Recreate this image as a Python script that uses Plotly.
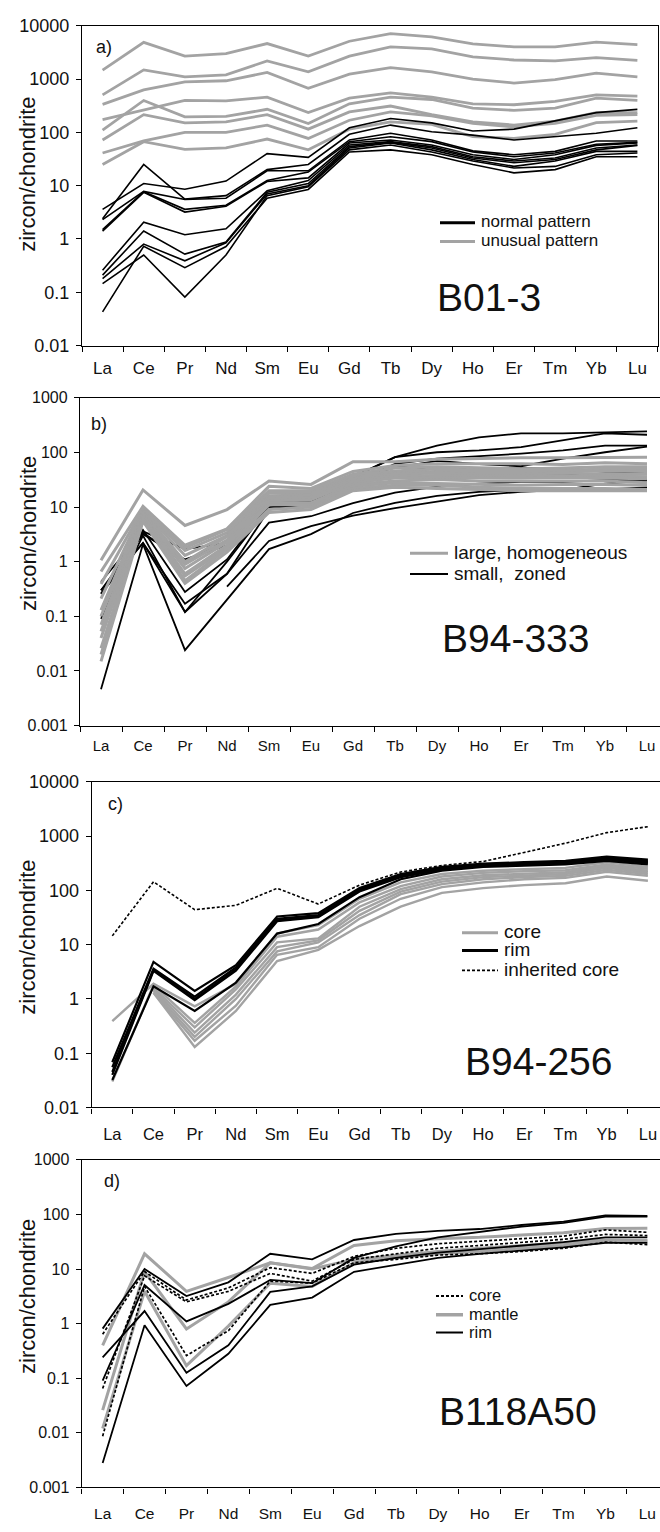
import plotly.graph_objects as go

W, H = 660, 1532
REE = ["La", "Ce", "Pr", "Nd", "Sm", "Eu", "Gd", "Tb", "Dy", "Ho", "Er", "Tm", "Yb", "Lu"]

# ---------------- a) B01-3 : chondrite-normalised REE ----------------
a_unusual = [
    [1470, 4900, 2700, 2990, 4640, 2700, 5130, 7110, 6170, 4580, 4030, 4030, 4920, 4450],
    [505, 1490, 1100, 1200, 2190, 1370, 2700, 4030, 3700, 2600, 2280, 2190, 2520, 2250],
    [335, 625, 890, 930, 1330, 671, 1240, 1640, 1370, 1000, 843, 973, 1290, 1100],
    [174, 260, 397, 391, 458, 235, 438, 551, 458, 344, 330, 380, 506, 478],
    [110, 397, 195, 200, 271, 147, 344, 458, 414, 286, 259, 286, 438, 397],
    [72, 215, 151, 158, 215, 115, 242, 312, 215, 158, 137, 162, 235, 235],
    [41, 69, 100, 100, 137, 77, 169, 242, 204, 147, 127, 147, 209, 215],
    [25, 67, 48, 51, 75, 47, 115, 158, 141, 83, 77, 92, 153, 162],
]
a_normal = [
    [3.6, 11, 8.6, 12.2, 40, 34, 122, 182, 151, 106, 115, 162, 235, 270],
    [2.4, 25, 5.6, 6.5, 20, 25, 92, 137, 103, 89, 72, 83, 96, 122],
    [2.3, 7.8, 5.5, 5.8, 19, 19, 72, 96, 72, 45, 38, 44, 69, 69],
    [1.5, 7.7, 3.6, 4.3, 12.5, 18, 67, 83, 67, 43, 35, 41, 60, 65],
    [1.4, 7.5, 3.2, 4.1, 12, 14, 63, 72, 58, 38, 31, 38, 57, 63],
    [0.26, 2.07, 1.2, 1.55, 8, 12.5, 58, 67, 54, 35, 29, 33, 51, 58],
    [0.21, 1.41, 0.52, 0.88, 7.5, 11, 54, 65, 51, 33, 27, 31, 47, 57],
    [0.18, 0.8, 0.39, 0.85, 7, 10, 51, 63, 47, 31, 23, 29, 44, 44],
    [0.145, 0.5, 0.081, 0.5, 6.5, 9.5, 47, 58, 43, 29, 21.5, 23, 38, 41],
    [0.043, 0.73, 0.29, 0.72, 5.8, 8.5, 43, 47, 38, 25, 17.4, 20, 35, 35],
]

# ---------------- b) B94-333 ----------------
b_small = [
    [0.43, 3.6, 1.7, 2.2, 15, 14, 36, 82, 134, 189, 224, 224, 233, 243],
    [0.26, 3.2, 1.1, 2.0, 12, 14, 35, 82, 101, 109, 125, 165, 224, 211],
    [0.1, 3.8, 0.28, 1.1, 11, 13, 28, 62, 77, 85, 95, 109, 134, 134],
    [0.3, 2.2, 0.17, 0.6, 9, 12, 33, 53, 70, 61, 56, 77, 101, 128],
    [0.09, 3.0, 0.12, 1.0, 10, 11, 25, 45, 53, 51, 51, 51, 44, 44],
    [0.3, 3.4, 1.0, 2.4, 13, 14, 32, 40, 45, 40, 38, 38, 40, 45],
    [0.26, 2.2, 0.12, 0.6, 5.2, 6.8, 11.8, 18.4, 23.6, 27, 29, 29, 31, 32],
    [None, None, None, 0.35, 2.4, 4.5, 7.0, 9.6, 12.6, 16.6, 19, 20.6, 27, 30.5],
    [0.0046, 2.1, 0.024, 0.2, 1.7, 3.2, 7.8, 12, 16, 19, 20.6, 20.6, 21, 23],
]
b_large = [
    [1.06, 20.6, 4.6, 9, 30, 26, 68, 68, 75, 78, 80, 80, 82, 82],
    [0.66, 10.3, 2.0, 4.0, 24, 22, 45, 58, 62, 62, 62, 60, 65, 62],
    [0.39, 9.5, 1.8, 3.9, 20, 20, 40, 52, 55, 52, 50, 52, 55, 55],
    [0.21, 9, 1.6, 3.4, 18, 18, 38, 46, 50, 48, 48, 47, 50, 50],
    [0.13, 8.5, 1.3, 3.0, 16, 17, 35, 42, 45, 45, 44, 45, 46, 45],
    [0.1, 8, 1.0, 2.9, 15, 16, 33, 40, 42, 40, 40, 42, 40, 40],
    [0.07, 7.5, 0.9, 2.5, 14, 15, 30, 37, 38, 38, 37, 38, 37, 36],
    [0.053, 7, 0.75, 2.3, 13, 13.6, 28, 34, 35, 34, 34, 35, 34, 33],
    [0.04, 6.8, 0.6, 2.0, 12, 12, 26, 30, 32, 30, 30, 30, 30, 28],
    [0.026, 6.5, 0.55, 1.8, 11, 11, 24, 28, 27, 26, 25, 26, 26, 25],
    [0.02, 6, 0.45, 1.7, 9, 10, 22, 25, 25, 23, 22, 22, 22, 21],
    [0.015, 5.5, 0.4, 1.5, 8, 9, 20, 23, 22, 21, 20, 20, 20, 20],
]

# ---------------- c) B94-256 ----------------
c_core = [
    [0.39, 1.9, 0.73, 1.9, 16, 23, 70, 140, 200, 230, 245, 260, 330, 270],
    [0.03, 1.8, 0.36, 1.7, 14, 19, 60, 120, 180, 210, 225, 235, 300, 250],
    [None, 1.6, 0.3, 1.5, 11, 13, 50, 105, 160, 190, 205, 215, 280, 230],
    [None, 1.5, 0.24, 1.2, 9, 12, 42, 95, 145, 175, 190, 200, 260, 215],
    [None, 1.4, 0.2, 1.0, 7.5, 11, 35, 85, 130, 160, 175, 185, 240, 200],
    [None, 1.3, 0.17, 0.75, 6.5, 9, 30, 70, 115, 140, 160, 170, 220, 185],
    [None, 1.3, 0.13, 0.6, 5, 8, 22, 50, 90, 110, 125, 135, 180, 150],
]
c_rim = [
    [0.068, 4.8, 1.4, 4.2, 33, 38, 110, 200, 270, 310, 330, 350, 420, 370],
    [0.055, 3.6, 1.1, 3.8, 30, 35, 105, 190, 260, 300, 320, 340, 400, 350],
    [0.045, 3.4, 1.0, 3.5, 28, 33, 100, 180, 250, 290, 305, 325, 380, 335],
    [0.04, 3.3, 0.95, 3.3, 27, 32, 95, 175, 240, 280, 295, 315, 370, 320],
    [0.032, 1.7, 0.6, 2.0, 16, 24, 75, 160, 230, 270, 285, 300, 350, 300],
]
c_inherited = [14.5, 144, 44, 53, 109, 56, 125, 218, 288, 340, 500, 740, 1157, 1490]

# ---------------- d) B118A50 ----------------
d_core = [
    [0.64, 9.0, 2.7, 4.5, 10.6, 8.3, 17, 24, 29, 32, 36, 40, 52, 47],
    [0.065, 7.5, 2.5, 3.9, 8.3, 6.0, 15, 19, 24, 27, 31, 35, 43, 41],
    [0.0087, 4.8, 0.26, 0.74, 6.0, 5.5, 13, 15, 18, 19, 21, 24, 31, 28],
]
d_mantle = [
    [0.4, 19, 3.9, 7.0, 13, 10.2, 27, 33, 36, 38, 42, 46, 55, 56],
    [0.026, 9, 0.8, 2.5, 13, 10, 15, 18, 21, 24, 27, 30, 34, 33],
    [0.012, 3.9, 0.17, 0.9, 5.5, 4.8, 13, 16, 19, 21, 24, 27, 33, 33],
]
d_rim = [
    [0.81, 10, 3.2, 5.7, 19, 15, 34, 44, 50, 54, 64, 74, 96, 94],
    [0.09, 5.1, 1.1, 2.3, 6.3, 5.5, 16, 26, 38, 48, 60, 70, 91, 91],
    [0.24, 1.7, 0.126, 0.4, 3.8, 4.8, 12, 16, 20, 23, 27, 31, 38, 38],
    [0.0028, 0.93, 0.072, 0.28, 2.2, 3.0, 8.9, 12, 16, 19, 22, 25, 30, 30],
]

TICKS_6 = [0.01, 0.1, 1, 10, 100, 1000, 10000]
TICKS_3 = [0.001, 0.01, 0.1, 1, 10, 100, 1000]


def tick_text(vals):
    return [("%g" % v) for v in vals]


GRAY = "#a3a3a3"
BLACK = "#000000"
FONT = "Liberation Sans, Arial, sans-serif"

# panel geometry in pixels: left, right, top, bottom, category width, log range
panels = [
    dict(l=82, r=658, t=16, b=340, step=41.14, yr=[-2, 4], ticks=TICKS_6, tfs=18, xfs=17, xstand=7),
    dict(l=80, r=660, t=393, b=725, step=42.0, yr=[-3, 3], ticks=TICKS_3, tfs=16, xfs=15, xstand=6),
    dict(l=91.7, r=660, t=782, b=1112, step=41.2, yr=[-2, 4], ticks=TICKS_6, tfs=18, xfs=16.5, xstand=12),
    dict(l=81.7, r=660, t=1165, b=1497, step=41.9, yr=[-3, 3], ticks=TICKS_3, tfs=16, xfs=15.5, xstand=12),
]

fig = go.Figure()


def add_lines(idx, series, color, width, dash="solid"):
    sfx = "" if idx == 0 else str(idx + 1)
    for s in series:
        fig.add_trace(go.Scatter(
            x=REE, y=s, mode="lines",
            line=dict(color=color, width=width, dash=dash),
            xaxis="x" + sfx, yaxis="y" + sfx,
            showlegend=False, hoverinfo="skip", connectgaps=False,
        ))


add_lines(0, a_unusual, GRAY, 2.8)
add_lines(0, a_normal, BLACK, 1.6)
add_lines(1, b_small, BLACK, 1.8)
add_lines(1, b_large, GRAY, 3.0)
add_lines(2, c_core, GRAY, 2.4)
add_lines(2, c_rim, BLACK, 2.2)
add_lines(2, [c_inherited], BLACK, 1.6, "3px,2px")
add_lines(3, d_mantle, GRAY, 3.0)
add_lines(3, d_core, BLACK, 1.7, "3px,2px")
add_lines(3, d_rim, BLACK, 1.8)

layout = dict(
    width=W, height=H, margin=dict(l=0, r=0, t=0, b=0),
    paper_bgcolor="white", plot_bgcolor="white", showlegend=False,
    font=dict(family=FONT, color="black"),
)

for i, p in enumerate(panels):
    sfx = "" if i == 0 else str(i + 1)
    xmax = (p["r"] - p["l"]) / p["step"] - 0.5
    layout["xaxis" + sfx] = dict(
        domain=[p["l"] / W, min(p["r"] / W, 1.0)],
        anchor="y" + sfx, type="category",
        categoryorder="array", categoryarray=REE,
        range=[-0.5, xmax], tickson="boundaries",
        ticks="outside", ticklen=5, tickwidth=1, tickcolor="black",
        showline=True, linecolor="black", linewidth=1.3, mirror=True,
        showgrid=False, zeroline=False,
        tickfont=dict(size=p["xfs"], family=FONT, color="#111111"),
        ticklabelstandoff=p["xstand"], fixedrange=True,
    )
    layout["yaxis" + sfx] = dict(
        domain=[1 - p["b"] / H, 1 - p["t"] / H],
        anchor="x" + sfx, type="log", range=p["yr"],
        tickmode="array", tickvals=p["ticks"], ticktext=tick_text(p["ticks"]),
        ticks="outside", ticklen=5, tickwidth=1, tickcolor="black",
        showline=True, linecolor="black", linewidth=1.3, mirror=(i == 0),
        showgrid=False, zeroline=False,
        tickfont=dict(size=p["tfs"], family=FONT, color="#111111"),
        ticklabelstandoff=3, fixedrange=True,
    )

fig.update_layout(**layout)


def px_x(x):
    return x / W


def px_y(y):
    return 1 - y / H


annotations = []
shapes = []


def text(x, y, s, size, xanchor="center", angle=0):
    annotations.append(dict(
        x=px_x(x), y=px_y(y), xref="paper", yref="paper", text=s,
        showarrow=False, xanchor=xanchor, yanchor="middle", textangle=angle,
        font=dict(size=size, family=FONT, color="#111111"),
    ))


def legend_row(x0, x1, y, label, color, width, dash, size):
    shapes.append(dict(
        type="line", xref="paper", yref="paper",
        x0=px_x(x0), x1=px_x(x1), y0=px_y(y), y1=px_y(y),
        line=dict(color=color, width=width, dash=dash),
    ))
    text(x1 + 4, y - 1, label, size, xanchor="left")


# axis titles
for yc in (167, 531, 940, 1304):
    text(28, yc, "zircon/chondrite", 22, angle=-90)

# panel letters
text(103.5, 37, "a)", 18)
text(99, 419, "b)", 18)
text(115, 804, "c)", 18)
text(112, 1186, "d)", 18)

# sample names
text(489, 291, "B01-3", 39)
text(515, 637, "B94-333", 39)
text(538, 1065, "B94-256", 39)
text(518, 1420, "B118A50", 39)

# legends
legend_row(440, 475, 215.5, "normal pattern", BLACK, 3, "solid", 17)
legend_row(440, 475, 234.5, "unusual pattern", GRAY, 3, "solid", 17)

legend_row(410, 448, 550.5, "large, homogeneous", GRAY, 3, "solid", 19)
legend_row(410, 448, 571.5, "small,  zoned", BLACK, 2, "solid", 19)

legend_row(462, 498, 935, "core", GRAY, 3, "solid", 19)
legend_row(462, 498, 953, "rim", BLACK, 3, "solid", 19)
legend_row(462, 498, 973, "inherited core", BLACK, 1.8, "3px,2px", 19)

legend_row(436, 463, 1303, "core", BLACK, 1.8, "3px,2px", 16.5)
legend_row(436, 463, 1322, "mantle", GRAY, 3.5, "solid", 16.5)
legend_row(436, 463, 1340, "rim", BLACK, 2, "solid", 16.5)

fig.update_layout(annotations=annotations, shapes=shapes)
fig.write_html("out.html")
